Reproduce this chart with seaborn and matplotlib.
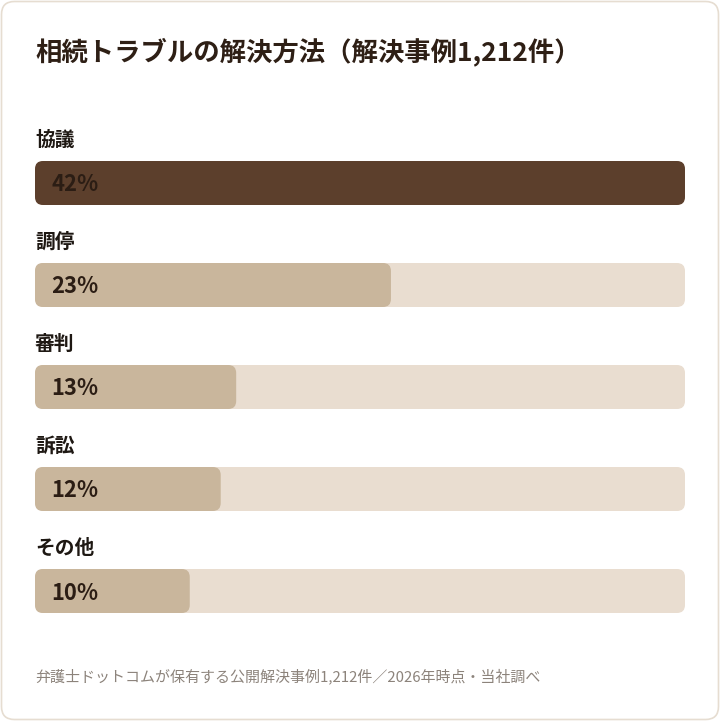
import matplotlib
matplotlib.use("Agg")
import matplotlib.pyplot as plt
import seaborn as sns
from matplotlib.patches import FancyBboxPatch

categories = ["協議", "調停", "審判", "訴訟", "その他"]
shares = [42, 23, 13, 12, 10]
value_labels = ["42%", "23%", "13%", "12%", "10%"]
title = "相続トラブルの解決方法（解決事例1,212件）"
note = "弁護士ドットコムが保有する公開解決事例1,212件／2026年時点・当社調べ"

TRACK = "#e9ddd0"
FILL = "#c9b69c"
TOP = "#5c3f2c"
TEXT = "#2b1d14"

sns.set_theme(style="white")
plt.rcParams["font.family"] = ["Noto Sans CJK JP", "DejaVu Sans"]

W, H = 720, 721
fig = plt.figure(figsize=(W / 100, H / 100), dpi=100, facecolor="white")

# card outline
card = FancyBboxPatch((1.5 / W, 1.5 / H), (W - 3) / W, (H - 3) / H,
                      boxstyle="round,pad=0,rounding_size=0.018",
                      transform=fig.transFigure, facecolor="white",
                      edgecolor="#e6ddd1", linewidth=1.2, zorder=0)
fig.add_artist(card)

left, right, top, bottom = 35, 685, 161, 613
ax = fig.add_axes([left / W, (H - bottom) / H, (right - left) / W, (bottom - top) / H])
ax.set_facecolor("none")

bar_h = 44 / 102
xmax = max(shares)
sns.barplot(x=[xmax] * len(categories), y=categories, color=TRACK,
            width=bar_h, saturation=1, ax=ax)
colors = [TOP] + [FILL] * (len(categories) - 1)
sns.barplot(x=shares, y=categories, hue=categories, palette=colors,
            width=bar_h, saturation=1, legend=False, ax=ax)

ax.set_xlim(0, xmax)
ax.set_ylim(len(categories) - 1 + bar_h / 2, -bar_h / 2)

# rounded bars
x_per_px = xmax / (right - left)
y_per_px = 1 / 102
for p in list(ax.patches):
    x0, y0 = p.get_x(), p.get_y()
    w, h = p.get_width(), p.get_height()
    fc = p.get_facecolor()
    p.remove()
    ax.add_patch(FancyBboxPatch((x0, y0), w, h,
                                boxstyle=f"round,pad=0,rounding_size={8 * x_per_px}",
                                mutation_aspect=y_per_px / x_per_px,
                                facecolor=fc, edgecolor="none"))

for i, (cat, lab) in enumerate(zip(categories, value_labels)):
    ax.text(0, i - bar_h / 2 - 21 * y_per_px, cat, ha="left", va="center",
            fontsize=14.2, fontweight="bold", color="#1e1813", clip_on=False)
    ax.text(16 * x_per_px, i + 2 * y_per_px, lab, ha="left", va="center",
            fontsize=15.8, fontweight="bold", color=TEXT)

ax.set_xlabel("")
ax.set_ylabel("")
ax.set_xticks([])
ax.set_yticks([])
sns.despine(ax=ax, left=True, bottom=True)

fig.text(left / W, 1 - 52 / H, title, ha="left", va="center",
         fontsize=19, fontweight="bold", color="#2e1f15")
fig.text(left / W, 1 - 676 / H, note, ha="left", va="center",
         fontsize=10.8, color="#8c837b")

fig.savefig("out.png", dpi=100, facecolor="white")
